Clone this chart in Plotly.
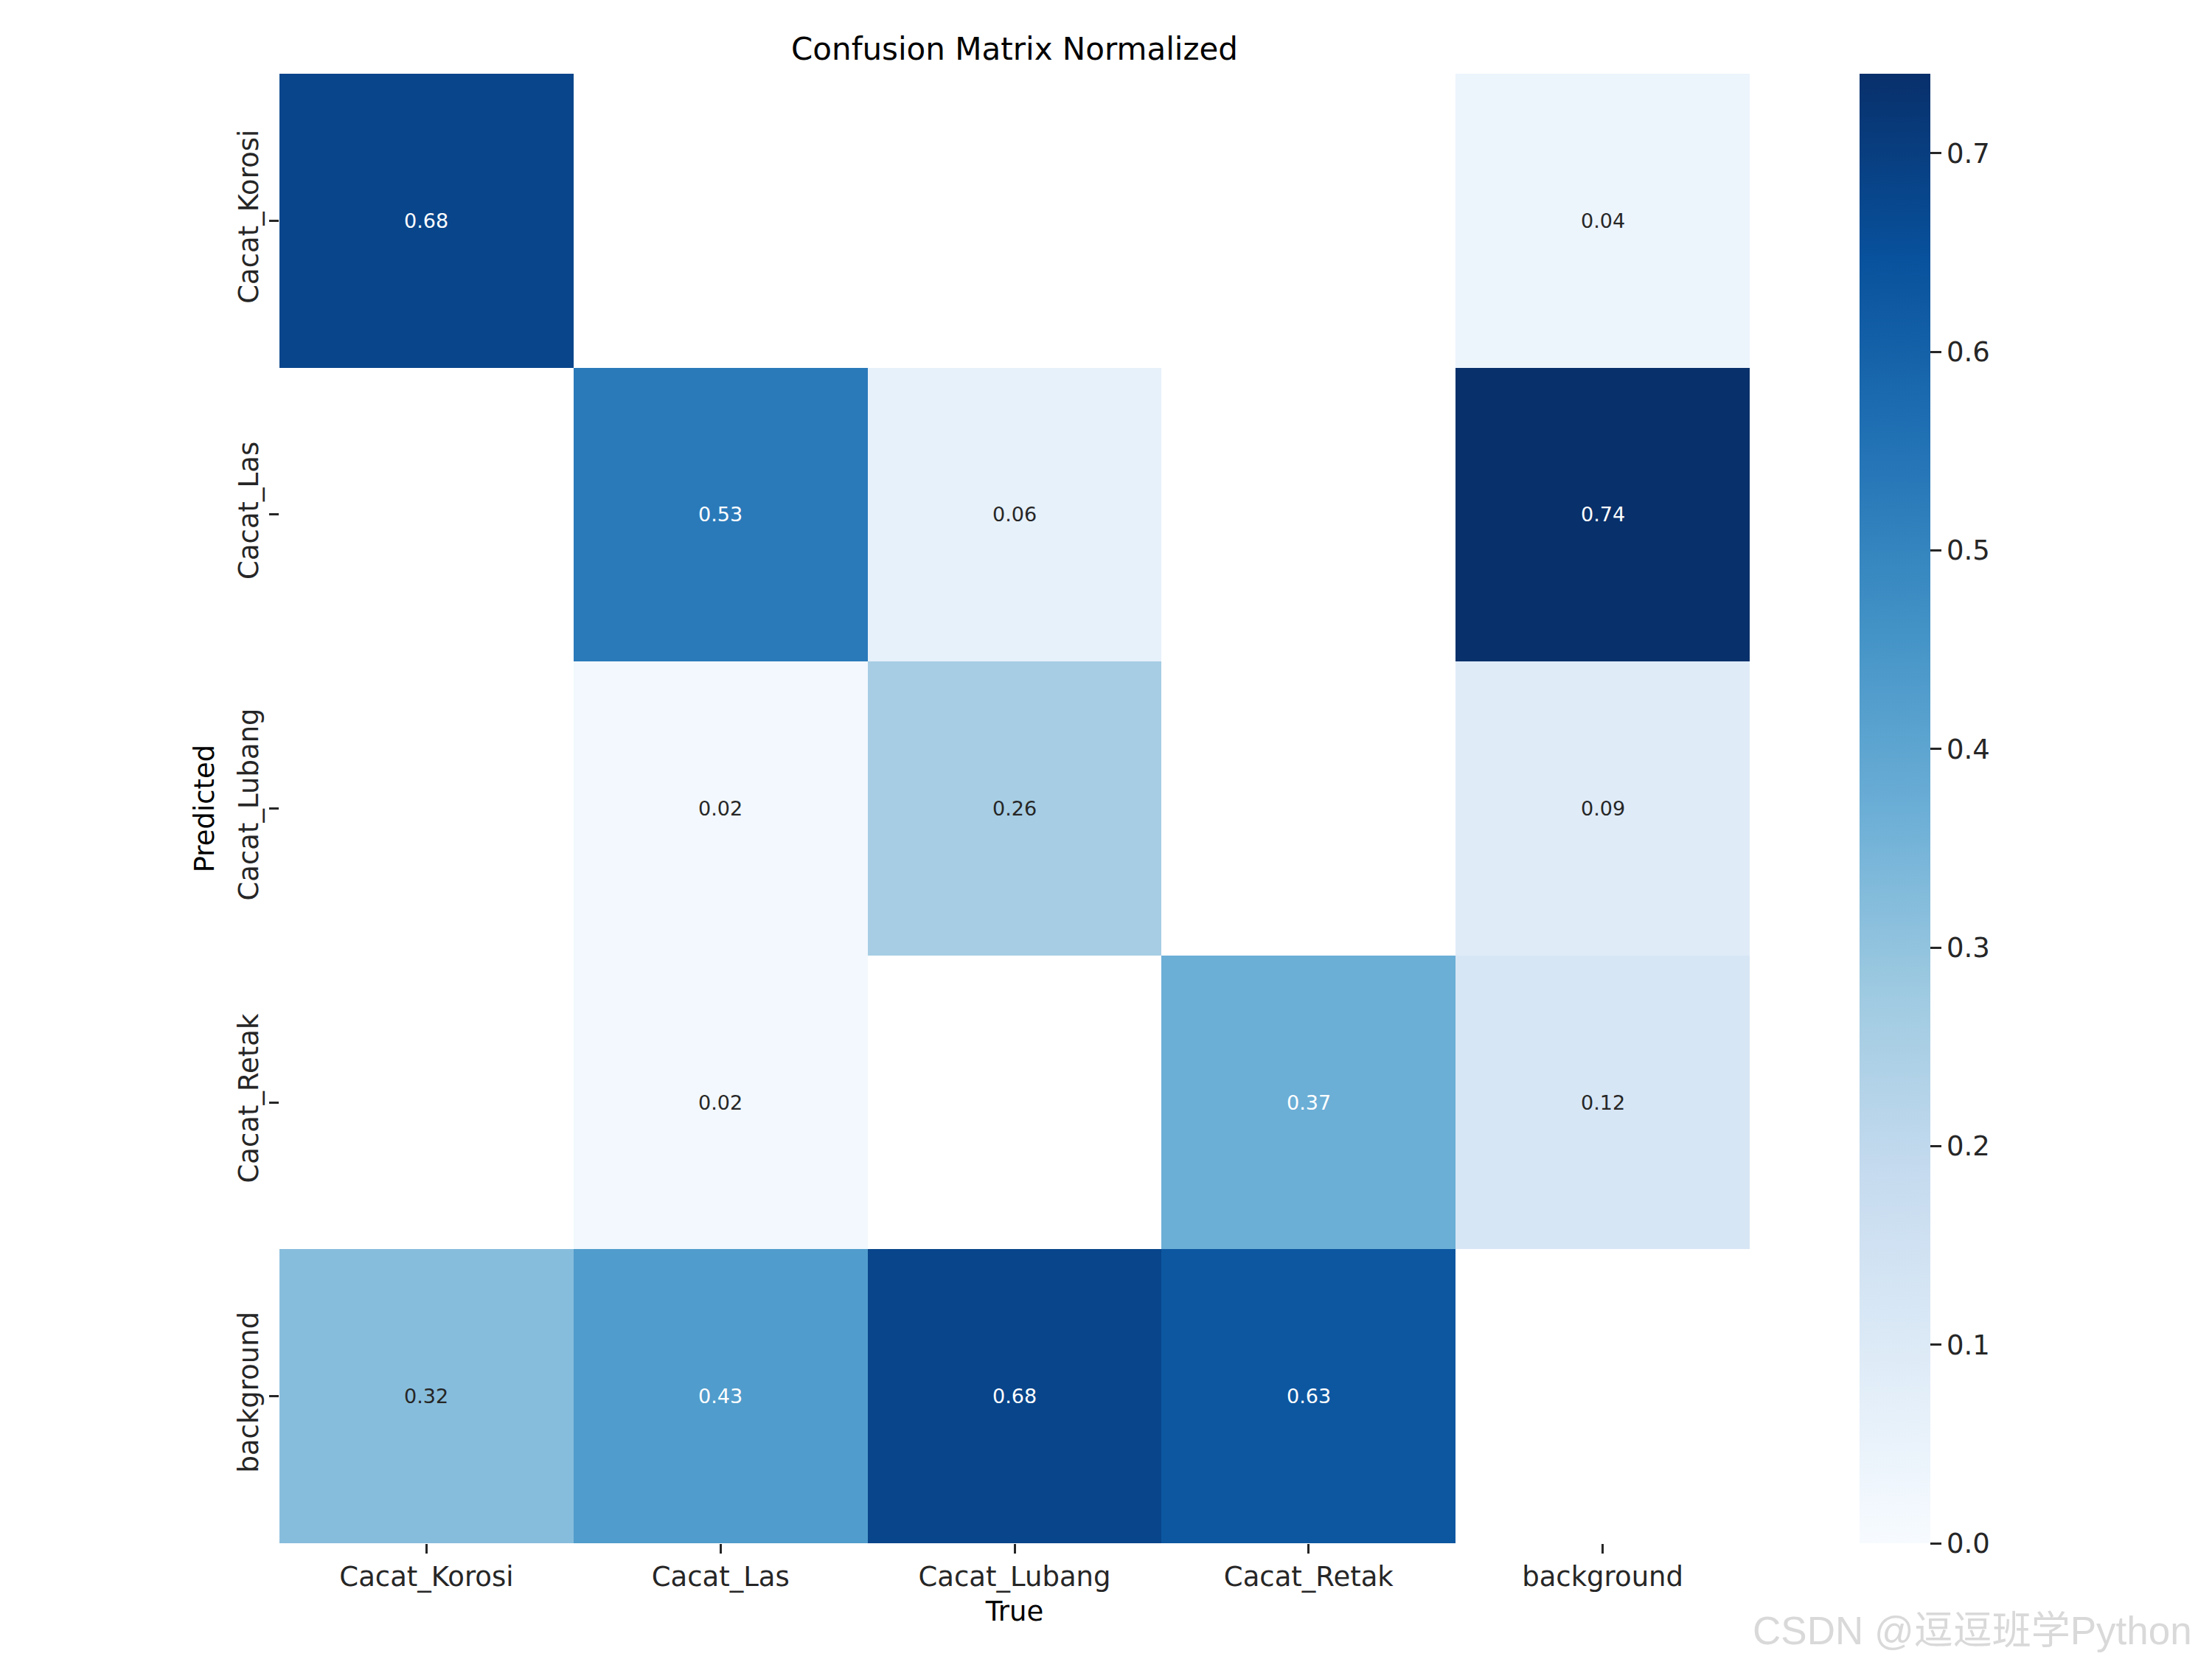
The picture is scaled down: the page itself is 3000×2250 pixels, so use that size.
import plotly.graph_objects as go
from plotly.colors import sample_colorscale, unlabel_rgb, hex_to_rgb

true_labels = ["Cacat_Korosi", "Cacat_Las", "Cacat_Lubang", "Cacat_Retak", "background"]
pred_labels = ["Cacat_Korosi", "Cacat_Las", "Cacat_Lubang", "Cacat_Retak", "background"]

row_korosi = [0.68, None, None, None, 0.04]
row_las = [None, 0.53, 0.06, None, 0.74]
row_lubang = [None, 0.02, 0.26, None, 0.09]
row_retak = [None, 0.02, None, 0.37, 0.12]
row_background = [0.32, 0.43, 0.68, 0.63, None]

z = [row_korosi, row_las, row_lubang, row_retak, row_background]

colorbar_ticks = [0.0, 0.1, 0.2, 0.3, 0.4, 0.5, 0.6, 0.7]

blues_hex = ["#f7fbff", "#deebf7", "#c6dbef", "#9ecae1", "#6baed6",
             "#4292c6", "#2171b5", "#08519c", "#08306b"]
colorscale = [[i / (len(blues_hex) - 1), c] for i, c in enumerate(blues_hex)]

zmin, zmax = 0.0, 0.74

W, H = 3000, 2250
left, right, top, bottom = 371, 635, 92, 165
plot_w = W - left - right
plot_h = H - top - bottom

tick_font = dict(family="DejaVu Sans", size=37, color="#262626")

fig = go.Figure()
fig.add_trace(go.Heatmap(
    z=z, x=true_labels, y=pred_labels,
    colorscale=colorscale, zmin=zmin, zmax=zmax,
    xgap=0, ygap=0, hoverongaps=False,
    colorbar=dict(
        x=(2522 - 8 - left) / plot_w, xanchor="left", xpad=0,
        y=0.5, yanchor="middle", len=1.0, lenmode="fraction", ypad=0,
        thickness=96, thicknessmode="pixels",
        outlinewidth=0,
        tickmode="array", tickvals=colorbar_ticks,
        ticktext=[f"{v:.1f}" for v in colorbar_ticks],
        ticks="outside", ticklen=15, tickwidth=2.5, tickcolor="#262626",
        tickfont=tick_font,
    ),
))


def lum(rgb):
    def ch(c):
        c = c / 255.0
        return c / 12.92 if c <= 0.03928 else ((c + 0.055) / 1.055) ** 2.4
    r, g, b = rgb
    return 0.2126 * ch(r) + 0.7152 * ch(g) + 0.0722 * ch(b)


for i, row in enumerate(z):
    for j, v in enumerate(row):
        if v is None:
            continue
        col = sample_colorscale(colorscale, [(v - zmin) / (zmax - zmin)])[0]
        if col.startswith("#"):
            rgb = hex_to_rgb(col)
        else:
            rgb = unlabel_rgb(col)
        txt_color = "#262626" if lum(rgb) > 0.408 else "white"
        fig.add_annotation(
            x=true_labels[j], y=pred_labels[i], text=f"{v:.2f}",
            showarrow=False, font=dict(family="DejaVu Sans", size=27, color=txt_color),
        )

fig.add_annotation(
    text="CSDN @逗逗班学Python", xref="paper", yref="paper",
    x=(2367 - left) / plot_w, y=-(2203 - (H - bottom)) / plot_h,
    xanchor="left", yanchor="middle", showarrow=False,
    font=dict(family="Liberation Sans, Noto Sans CJK SC", size=53, color="#d9d9d9"),
)

fig.update_layout(
    width=W, height=H,
    margin=dict(l=left, r=right, t=top, b=bottom, autoexpand=False),
    paper_bgcolor="white", plot_bgcolor="white",
    title=dict(text="Confusion Matrix Normalized", x=0.5, xref="paper",
               xanchor="center", y=1 - 58 / H, yref="container", yanchor="middle",
               font=dict(family="DejaVu Sans", size=42, color="black")),
    xaxis=dict(
        title=dict(text="True", font=dict(family="DejaVu Sans", size=37, color="black"), standoff=12),
        ticks="outside", ticklen=13, tickwidth=2.5, tickcolor="#262626",
        tickfont=tick_font, showgrid=False, zeroline=False, showline=False,
        tickangle=0,
    ),
    yaxis=dict(
        title=dict(text="Predicted", font=dict(family="DejaVu Sans", size=37, color="black"), standoff=14),
        ticks="outside", ticklen=13, tickwidth=2.5, tickcolor="#262626",
        tickfont=tick_font, showgrid=False, zeroline=False, showline=False,
        tickangle=-90, autorange="reversed",
    ),
)

fig.write_html("out.html")
